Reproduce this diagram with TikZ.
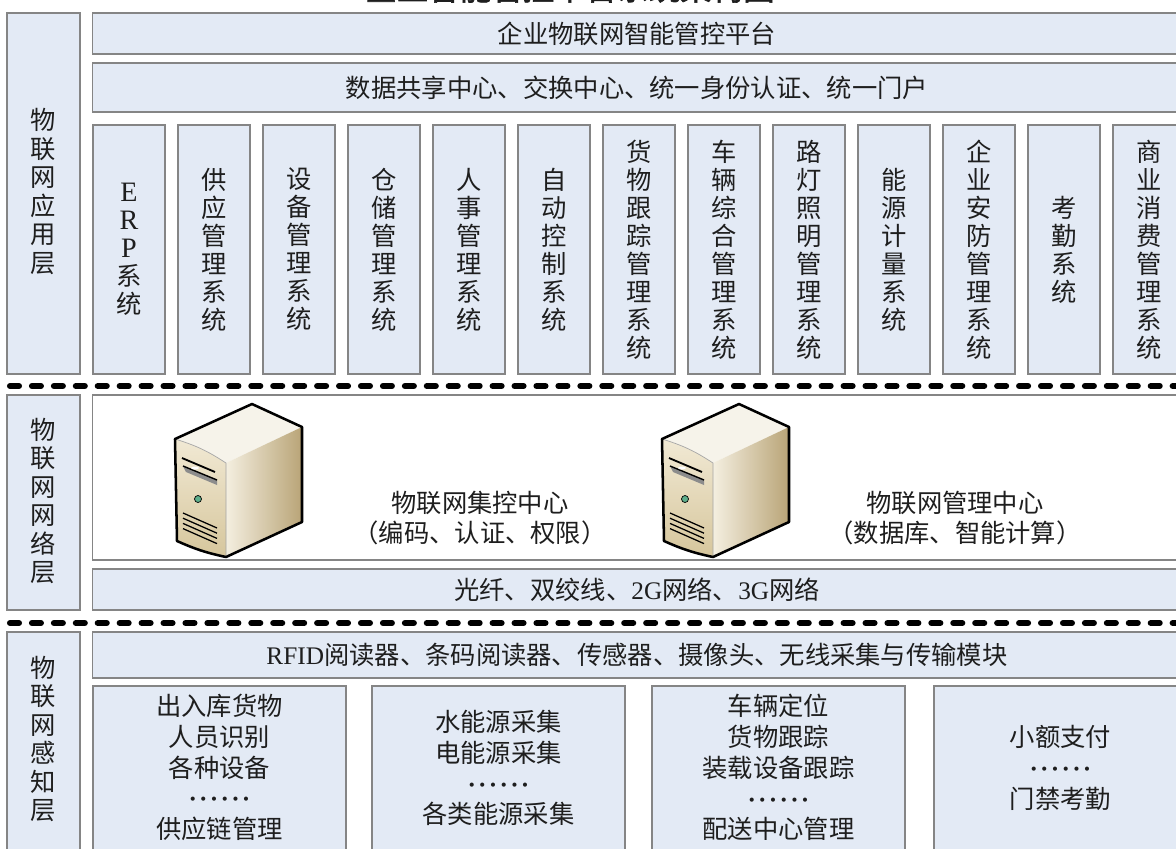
\documentclass[tikz,border=0pt]{standalone}
\usepackage{fontspec}
\setmainfont{Noto Sans CJK SC}
\newfontfamily\latin{Liberation Serif}
\newfontfamily\titlefont[FakeBold=2]{Noto Sans CJK SC}
% six centred dots
\newcommand\sixdots{{\latin\bfseries ·\kern1.6pt·\kern1.6pt·\kern1.6pt·\kern1.6pt·\kern1.6pt·}}
% upright latin letter in a column
\newcommand\vlat[1]{{\latin\fontsize{20}{19.9}\selectfont #1}}

\definecolor{boxblue}{HTML}{E3EAF5}
\definecolor{boxline}{HTML}{858585}
\definecolor{ink}{HTML}{1E1E1E}
\definecolor{topcream}{HTML}{F6F3EA}
\definecolor{sidelight}{HTML}{F4EFE0}
\definecolor{sidedark}{HTML}{B9A477}
\definecolor{frontlight}{HTML}{F1E9D4}
\definecolor{frontdark}{HTML}{D6C69C}
\definecolor{ledgreen}{HTML}{5DAE8B}

\tikzset{
  panel/.style={draw=boxline, line width=0.9pt, fill=boxblue, inner sep=0pt, text=ink},
  txt/.style={text=ink, font=\fontsize{18}{21.9}\selectfont, align=center},
  vtxt/.style={text=ink, font=\fontsize{18}{19.9}\selectfont, align=center},
  sidetxt/.style={text=ink, font=\fontsize{18}{20.3}\selectfont, align=center},
  sepline/.style={line width=4.3pt, line cap=round, dash pattern=on 6.4pt off 9.2pt},
  % tower server, origin at the top left corner
  server/.pic={
    \path[fill=topcream] (0,35) -- (77,0) -- (127,23) -- (51,59) to[bend right=8] cycle;
    \shade[left color=sidelight, right color=sidedark] (51,59) -- (127,23) -- (127,118) -- (51,153) -- cycle;
    \shade[top color=frontlight, bottom color=frontdark] (0,35) to[bend left=8] (51,59) -- (51,153) to[bend left=6] (2,137) -- cycle;
    \draw[line width=0.5pt, draw=black!35] (0,35) to[bend left=8] (51,59) -- (51,153);
    % drive slot
    \draw[line width=1.3pt] (7,54) -- (40,68);
    \fill[black!45] (8,62) -- (42,76) -- (42,81) -- (11,68) -- cycle;
    \draw[line width=1pt] (8,62) -- (42,76);
    \fill[white] (20,64) ellipse (4 and 1.5);
    % power led
    \draw[fill=ledgreen, line width=0.5pt] (23,95) circle (3.5);
    % vents
    \foreach \k in {0,...,3}
      \draw[line width=0.9pt] (8,109+5.2*\k) -- (42,124+5.2*\k);
    \draw[line width=1.8pt, line join=round] (0,35) -- (77,0) -- (127,23) -- (127,118) -- (51,153) to[bend left=6] (2,137) -- cycle;
  },
}

\begin{document}
\begin{tikzpicture}[x=0.025cm, y=-0.025cm]
  \useasboundingbox (0,0) rectangle (1176,848);
  \clip (0,0) rectangle (1176,848);

  % titel
  \node[text=ink, font=\titlefont\fontsize{22.4}{24}\selectfont] (title) at (570,-12) {企业智能管控平台系统架构图};

  % aplikacni vrstva
  \node[panel, minimum width=1.825cm, minimum height=9.025cm] (appL) at (43.5,193.5) {};
  \node[sidetxt] (appT) at (43.5,191.5) {物\\联\\网\\应\\用\\层};
  \node[panel, txt, minimum width=27.2cm, minimum height=1.025cm] (platform) at (637,33.5) {企业物联网智能管控平台};
  \node[panel, txt, minimum width=27.2cm, minimum height=1.225cm] (share) at (637,87.5) {数据共享中心、交换中心、统一身份认证、统一门户};
  \foreach \i/\txt in {
      0/{\vlat{E}\\\vlat{R}\\\vlat{P}\\系\\统},
      1/{供\\应\\管\\理\\系\\统},
      2/{设\\备\\管\\理\\系\\统},
      3/{仓\\储\\管\\理\\系\\统},
      4/{人\\事\\管\\理\\系\\统},
      5/{自\\动\\控\\制\\系\\统},
      6/{货\\物\\跟\\踪\\管\\理\\系\\统},
      7/{车\\辆\\综\\合\\管\\理\\系\\统},
      8/{路\\灯\\照\\明\\管\\理\\系\\统},
      9/{能\\源\\计\\量\\系\\统},
      10/{企\\业\\安\\防\\管\\理\\系\\统},
      11/{考\\勤\\系\\统},
      12/{商\\业\\消\\费\\管\\理\\系\\统}}
    \node[panel, vtxt, minimum width=1.8cm, minimum height=6.225cm] (sys\i) at (129+85*\i,249.5) {\txt};

  \draw[sepline] (10,386) -- (1180,386);

  % sitova vrstva
  \node[panel, minimum width=1.825cm, minimum height=5.375cm] (netL) at (43.5,502.5) {};
  \node[sidetxt] (netT) at (43.5,501) {物\\联\\网\\网\\络\\层};
  \node[panel, fill=white, minimum width=27.2cm, minimum height=4.125cm] (hosts) at (637,477.5) {};
  \pic (srvA) at (175,404) {server};
  \pic (srvB) at (662,404) {server};
  \node[txt, font=\fontsize{18}{21.3}\selectfont] (ctrl) at (480,518) {物联网集控中心\\（编码、认证、权限）};
  \node[txt, font=\fontsize{18}{21.3}\selectfont] (mgmt) at (955,518) {物联网管理中心\\（数据库、智能计算）};
  \node[panel, txt, minimum width=27.2cm, minimum height=1.025cm] (links) at (637,589.5) {光纤、双绞线、{\latin 2G}网络、{\latin 3G}网络};

  \draw[sepline] (10,623) -- (1180,623);

  % vrstva vnimani
  \node[panel, minimum width=1.825cm, minimum height=5.7cm] (senL) at (43.5,746) {};
  \node[sidetxt] (senT) at (43.5,739) {物\\联\\网\\感\\知\\层};
  \node[panel, txt, minimum width=27.2cm, minimum height=1.15cm] (readers) at (637,655) {{\latin RFID}阅读器、条码阅读器、传感器、摄像头、无线采集与传输模块};
  \foreach \j/\cx in {1/219.5, 2/498.5, 3/778.5, 4/1060.5}
    \node[panel, minimum width=6.325cm, minimum height=4.35cm] (grp\j) at (\cx,773) {};
  \node[txt] (grp1T) at (219.5,767.5) {出入库货物\\人员识别\\各种设备\\\sixdots\\供应链管理};
  \node[txt] (grp2T) at (498.5,768) {水能源采集\\电能源采集\\\sixdots\\各类能源采集};
  \node[txt] (grp3T) at (778.5,767.5) {车辆定位\\货物跟踪\\装载设备跟踪\\\sixdots\\配送中心管理};
  \node[txt] (grp4T) at (1060.5,768) {小额支付\\\sixdots\\门禁考勤};
\end{tikzpicture}
\end{document}
